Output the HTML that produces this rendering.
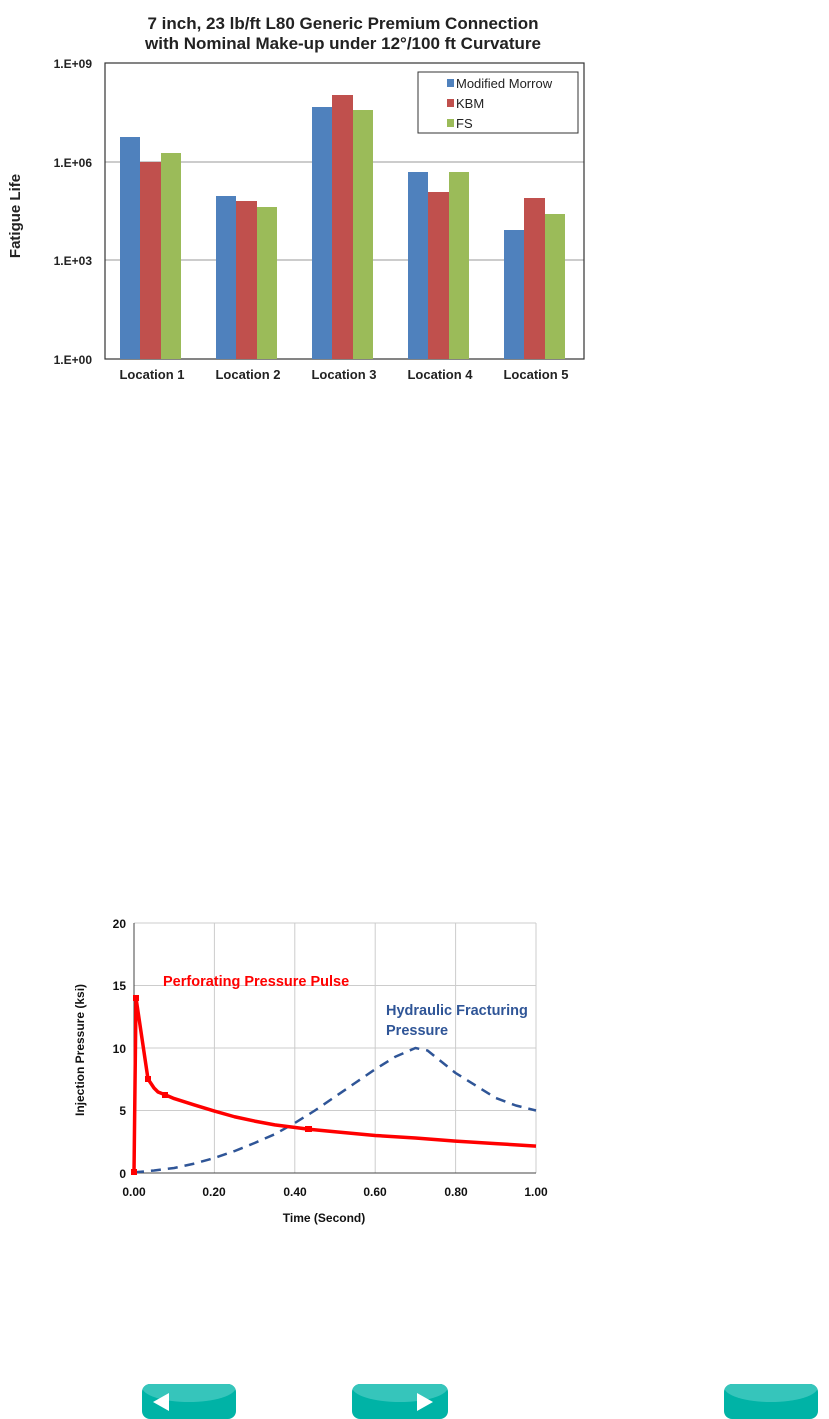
<!DOCTYPE html>
<html><head><style>
body{margin:0;background:#fff;width:829px;height:1419px;overflow:hidden;position:relative;font-family:"Liberation Sans",Arial,sans-serif}
.btn{position:absolute;top:1384px;height:35px;border-radius:8px;background:#00b3a6;overflow:hidden}
.btn .hl{position:absolute;left:0;right:0;top:-12px;height:30px;border-radius:50%;background:#36c5bb}
</style></head><body>
<svg width="829" height="1419" style="position:absolute;left:0;top:0" font-family="Liberation Sans, Arial, sans-serif">
<text x="343" y="29" font-size="17" font-weight="bold" text-anchor="middle" fill="#222">7 inch, 23 lb/ft L80 Generic Premium Connection</text>
<text x="343" y="49" font-size="17" font-weight="bold" text-anchor="middle" fill="#222">with Nominal Make-up under 12°/100 ft Curvature</text>
<g stroke="#999" stroke-width="1"><line x1="105" y1="162" x2="584" y2="162"/><line x1="105" y1="260" x2="584" y2="260"/></g>
<rect x="105" y="63" width="479" height="296" fill="none" stroke="#333" stroke-width="1.2"/>
<g font-size="12" font-weight="bold" fill="#222" text-anchor="end">
<text x="92" y="68">1.E+09</text><text x="92" y="167">1.E+06</text><text x="92" y="265">1.E+03</text><text x="92" y="364">1.E+00</text></g>
<text transform="translate(20,216) rotate(-90)" font-size="15" font-weight="bold" text-anchor="middle" fill="#222">Fatigue Life</text>
<g>
<rect x="120" y="137" width="20" height="222" fill="#4f81bd"/><rect x="140" y="162" width="21" height="197" fill="#c0504d"/><rect x="161" y="153" width="20" height="206" fill="#9bbb59"/>
<rect x="216" y="196" width="20" height="163" fill="#4f81bd"/><rect x="236" y="201" width="21" height="158" fill="#c0504d"/><rect x="257" y="207" width="20" height="152" fill="#9bbb59"/>
<rect x="312" y="107" width="20" height="252" fill="#4f81bd"/><rect x="332" y="95" width="21" height="264" fill="#c0504d"/><rect x="353" y="110" width="20" height="249" fill="#9bbb59"/>
<rect x="408" y="172" width="20" height="187" fill="#4f81bd"/><rect x="428" y="192" width="21" height="167" fill="#c0504d"/><rect x="449" y="172" width="20" height="187" fill="#9bbb59"/>
<rect x="504" y="230" width="20" height="129" fill="#4f81bd"/><rect x="524" y="198" width="21" height="161" fill="#c0504d"/><rect x="545" y="214" width="20" height="145" fill="#9bbb59"/>
</g>
<g font-size="13" font-weight="bold" fill="#222" text-anchor="middle">
<text x="152" y="379">Location 1</text><text x="248" y="379">Location 2</text><text x="344" y="379">Location 3</text><text x="440" y="379">Location 4</text><text x="536" y="379">Location 5</text></g>
<rect x="418" y="72" width="160" height="61" fill="#fff" stroke="#333" stroke-width="1"/>
<rect x="447" y="79" width="7" height="8" fill="#4f81bd"/><rect x="447" y="99" width="7" height="8" fill="#c0504d"/><rect x="447" y="119" width="7" height="8" fill="#9bbb59"/>
<g font-size="13" fill="#222"><text x="456" y="88">Modified Morrow</text><text x="456" y="108">KBM</text><text x="456" y="128">FS</text></g>

<g stroke="#ccc" stroke-width="1">
<line x1="134" y1="923" x2="536" y2="923"/><line x1="134" y1="985.5" x2="536" y2="985.5"/><line x1="134" y1="1048" x2="536" y2="1048"/><line x1="134" y1="1110.5" x2="536" y2="1110.5"/>
<line x1="214.4" y1="923" x2="214.4" y2="1173"/><line x1="294.8" y1="923" x2="294.8" y2="1173"/><line x1="375.2" y1="923" x2="375.2" y2="1173"/><line x1="455.6" y1="923" x2="455.6" y2="1173"/><line x1="536" y1="923" x2="536" y2="1173"/>
</g>
<g stroke="#444" stroke-width="1"><line x1="134" y1="923" x2="134" y2="1173"/><line x1="134" y1="1173" x2="536" y2="1173"/></g>
<g font-size="12" font-weight="bold" fill="#111" text-anchor="end">
<text x="126" y="928">20</text><text x="126" y="990">15</text><text x="126" y="1053">10</text><text x="126" y="1115">5</text><text x="126" y="1178">0</text></g>
<g font-size="12" font-weight="bold" fill="#111" text-anchor="middle">
<text x="134" y="1196">0.00</text><text x="214" y="1196">0.20</text><text x="295" y="1196">0.40</text><text x="375" y="1196">0.60</text><text x="456" y="1196">0.80</text><text x="536" y="1196">1.00</text></g>
<text x="324" y="1222" font-size="12" font-weight="bold" text-anchor="middle" fill="#111">Time (Second)</text>
<text transform="translate(84,1050) rotate(-90)" font-size="12" font-weight="bold" text-anchor="middle" fill="#111">Injection Pressure (ksi)</text>
<polyline points="134,1172.4 154.1,1170.5 174.2,1168 194.3,1163.6 214.4,1158 234.5,1151.1 254.6,1143 274.7,1134.25 294.8,1123 314.9,1110.5 335,1096.75 355.1,1083 375.2,1069.25 395.3,1056.75 415.4,1048 427.5,1050.5 455.6,1073 475.7,1085.5 495.8,1098 515.9,1105.5 536,1110.5" fill="none" stroke="#2f5597" stroke-width="2.5" stroke-dasharray="10,7" stroke-linejoin="round"/>
<polyline points="134,1173 136,998 148,1079 154,1088 158,1092 165.4,1094.9 174.2,1098.6 194.3,1104.9 214.4,1111.1 234.5,1116.75 254.6,1121.1 274.7,1124.9 308.9,1129.25 335,1131.75 375.2,1135.5 415.4,1138 455.6,1141.1 495.8,1143.6 536,1146.1" fill="none" stroke="#f00" stroke-width="3.5" stroke-linejoin="round"/>
<g fill="#f00"><rect x="131" y="1169" width="6" height="6"/><rect x="133" y="995" width="6" height="6"/><rect x="145" y="1076" width="6" height="6"/><rect x="162" y="1092" width="6" height="6"/><rect x="305" y="1126" width="7" height="6"/></g>
<text x="163" y="986" font-size="14.5" font-weight="bold" fill="#f00">Perforating Pressure Pulse</text>
<text x="386" y="1015" font-size="14.5" font-weight="bold" fill="#2f5597">Hydraulic Fracturing</text>
<text x="386" y="1035" font-size="14.5" font-weight="bold" fill="#2f5597">Pressure</text>
</svg>
<div class="btn" style="left:142px;width:94px"><div class="hl"></div><svg style="position:absolute;left:11px;top:9px" width="16" height="18"><polygon points="0,9 16,0 16,18" fill="#fff"/></svg></div>
<div class="btn" style="left:352px;width:96px"><div class="hl"></div><svg style="position:absolute;left:65px;top:9px" width="16" height="18"><polygon points="16,9 0,0 0,18" fill="#fff"/></svg></div>
<div class="btn" style="left:724px;width:94px"><div class="hl"></div></div>
</body></html>
